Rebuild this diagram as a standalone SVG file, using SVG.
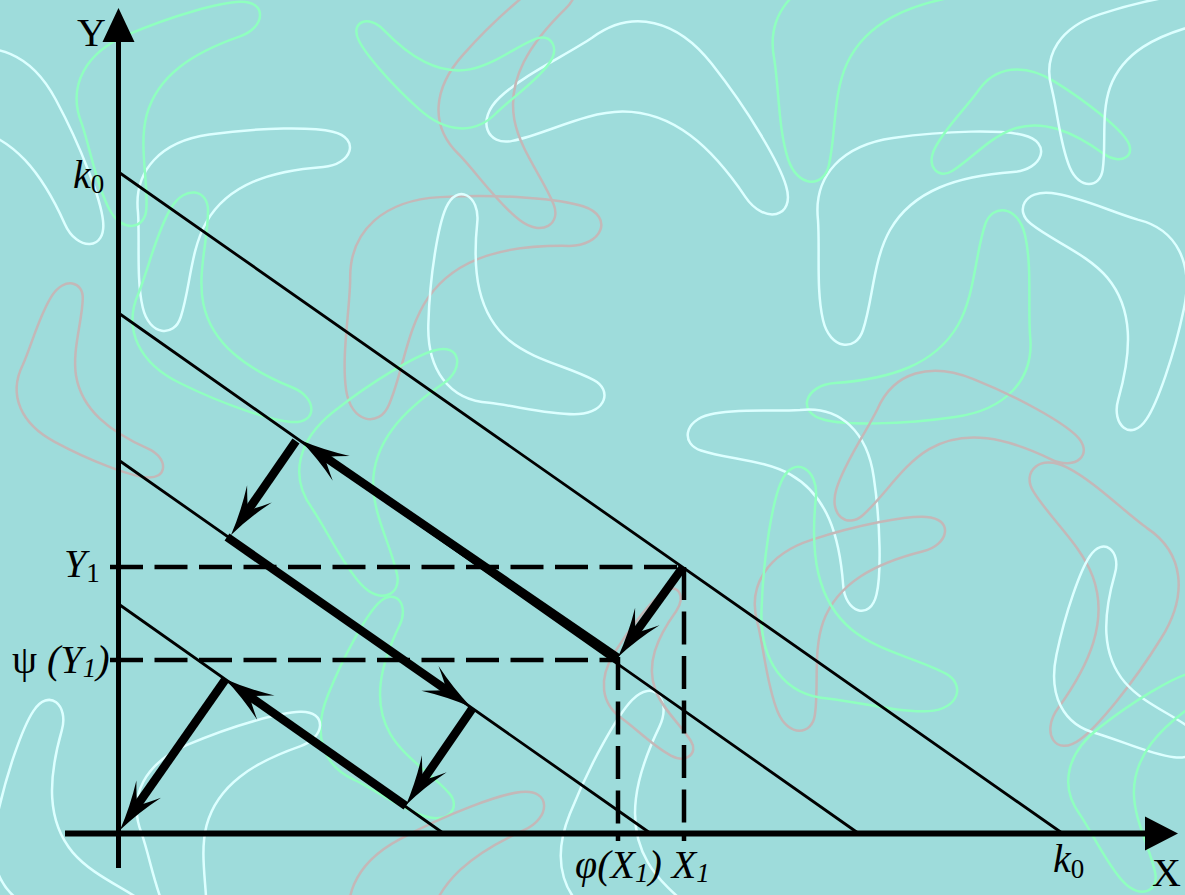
<svg xmlns="http://www.w3.org/2000/svg" xmlns:xlink="http://www.w3.org/1999/xlink" width="1185" height="895" viewBox="0 0 1185 895">
<style>
.deco{fill:none;stroke-width:2.5}
.bw{stroke:#DDFFFF}
.bg{stroke:#8FFFBF}
.bp{stroke:#C4B8B8}
.thin{stroke:#000;stroke-width:2.8;fill:none;stroke-linecap:round}
.axis{stroke:#000;fill:none}
.dash{stroke:#000;stroke-width:4.5;fill:none;stroke-dasharray:33 11.5}
.shaft{stroke:#000;stroke-width:8.5;fill:none}
.t{font-family:"Liberation Serif","Times New Roman",serif;font-size:40px;fill:#000}
.i{font-style:italic}
.s{font-size:27px}
</style>
<defs>
<path id="bm" vector-effect="non-scaling-stroke" d="M0,50 C-5,5 25,-25 75,-32 C130,-40 185,-40 205,-35 C235,-28 225,0 195,2 C140,6 95,20 72,60 C55,90 55,130 45,160 C38,182 12,180 5,150 C-2,120 2,80 0,50 Z"/>
<path id="ah" d="M0,0 Q-25,-5 -50,-15 Q-37,-6 -30,0 Q-37,6 -50,15 Q-25,5 0,0 Z" fill="#000"/>
</defs>
<rect width="1185" height="895" fill="#9EDCDB"/>
<g id="background" class="deco">
<use href="#bm" class="bw" transform="translate(818,170) scale(1)"/>
<use href="#bm" class="bg" transform="translate(1030,385) rotate(180)"/>
<use href="#bm" class="bw" transform="translate(138,165) scale(0.95)"/>
<use href="#bm" class="bp" transform="translate(10,400) rotate(20) scale(0.75,-0.75)"/>
<use href="#bm" class="bg" transform="translate(125,335) rotate(18) scale(0.9,-0.9)"/>
<use href="#bm" class="bp" transform="translate(355,225) rotate(5) scale(1.1)"/>
<use href="#bm" class="bw" transform="translate(445,395) rotate(-80) scale(0.9)"/>
<use href="#bm" class="bg" transform="translate(290,470) rotate(-30) scale(0.9)"/>
<use href="#bm" class="bw" transform="translate(845,410) rotate(90) scale(0.9)"/>
<use href="#bm" class="bp" transform="translate(750,580) rotate(-10) scale(0.9)"/>
<use href="#bm" class="bp" transform="translate(900,370) rotate(30) scale(0.9)"/>
<use href="#bm" class="bw" transform="translate(1180,235) rotate(110) scale(0.9)"/>
<use href="#bm" class="bg" transform="translate(1000,65) rotate(40) scale(0.7)"/>
<use href="#bm" class="bw" transform="translate(1045,50) rotate(-10) scale(0.8)"/>
<use href="#bm" class="bg" transform="translate(770,10) rotate(-5)"/>
<use href="#bm" class="bw" transform="translate(640,10) rotate(60) scale(1.1)"/>
<use href="#bm" class="bp" transform="translate(430,120) rotate(-40) scale(0.9)"/>
<use href="#bm" class="bg" transform="translate(470,135) rotate(-130) scale(0.7)"/>
<use href="#bm" class="bg" transform="translate(70,80) rotate(-15) scale(0.9)"/>
<use href="#bm" class="bw" transform="translate(0,40) rotate(70)"/>
<use href="#bm" class="bg" transform="translate(320,760) rotate(-60) scale(0.8)"/>
<use href="#bm" class="bw" transform="translate(130,790) rotate(-15) scale(0.9)"/>
<use href="#bm" class="bp" transform="translate(340,895) rotate(-20)"/>
<use href="#bm" class="bg" transform="translate(780,690) rotate(-80)"/>
<use href="#bm" class="bp" transform="translate(1185,560) rotate(130)"/>
<use href="#bm" class="bw" transform="translate(1060,720) rotate(-70) scale(0.8)"/>
<use href="#bm" class="bg" transform="translate(1060,780) rotate(-30) scale(0.8)"/>
<use href="#bm" class="bw" transform="translate(0,895) rotate(-70) scale(0.9)"/>
<use href="#bm" class="bw" transform="translate(560,895) rotate(-60)"/>
<use href="#bm" class="bp" transform="translate(600,700) rotate(-50) scale(0.6)"/>
</g>
<g id="level-lines">
<line class="thin" x1="118.5" y1="172" x2="1062" y2="833"/>
<line class="thin" x1="118.5" y1="313" x2="858" y2="833"/>
<line class="thin" x1="118.5" y1="460" x2="650" y2="833"/>
<line class="thin" x1="118.5" y1="604" x2="443" y2="833"/>
</g>
<g id="guides">
<line class="dash" x1="110" y1="567" x2="683" y2="567"/>
<line class="dash" x1="684" y1="567" x2="684" y2="841"/>
<line class="dash" x1="110" y1="660" x2="618" y2="660"/>
<line class="dash" x1="618" y1="657" x2="618" y2="841"/>
</g>
<g id="axes">
<line class="axis" stroke-width="5" x1="118.5" y1="868" x2="118.5" y2="40"/>
<polygon points="118.5,8 102.5,42 134.5,42" fill="#000"/>
<line class="axis" stroke-width="6" x1="65" y1="833.5" x2="1148" y2="833.5"/>
<polygon points="1178,833.5 1145,816.5 1145,850.5" fill="#000"/>
</g>
<g id="connectors">
<line class="shaft" x1="683" y1="567" x2="632.6" y2="636.7"/>
<use href="#ah" transform="translate(618,657) rotate(125.84)"/>
<line class="shaft" x1="618" y1="658" x2="320.6" y2="454.1"/>
<use href="#ah" transform="translate(300,440) rotate(-145.57)"/>
<line class="shaft" x1="296" y1="441" x2="245.2" y2="514.4"/>
<use href="#ah" transform="translate(231,535) rotate(124.66)"/>
<line class="shaft" x1="227" y1="537" x2="450.5" y2="692.7"/>
<use href="#ah" transform="translate(471,707) rotate(34.87)"/>
<line class="shaft" x1="472" y1="709" x2="420.2" y2="784.4"/>
<use href="#ah" transform="translate(406,805) rotate(124.51)"/>
<line class="shaft" x1="406" y1="806" x2="245.5" y2="693.4"/>
<use href="#ah" transform="translate(225,679) rotate(-144.94)"/>
<line class="shaft" x1="225" y1="680" x2="134.3" y2="809.5"/>
<use href="#ah" transform="translate(120,830) rotate(125)"/>
</g>
<g id="labels">
<text class="t" x="77" y="46">Y</text>
<text class="t" x="73" y="188"><tspan class="i">k</tspan><tspan class="s" dy="5">0</tspan></text>
<text class="t" x="64" y="577"><tspan class="i">Y</tspan><tspan class="s" dy="5">1</tspan></text>
<text class="t" x="12" y="673">ψ <tspan class="i">(Y</tspan><tspan class="i s" dy="4">1</tspan><tspan class="i" dy="-4">)</tspan></text>
<text class="t i" x="575" y="878">φ(X<tspan class="s" dy="4">1</tspan><tspan dy="-4">) X</tspan><tspan class="s" dy="4">1</tspan></text>
<text class="t" x="1053" y="872"><tspan class="i">k</tspan><tspan class="s" dy="6">0</tspan></text>
<text class="t" x="1152" y="886" font-size="36">X</text>
</g>
</svg>
